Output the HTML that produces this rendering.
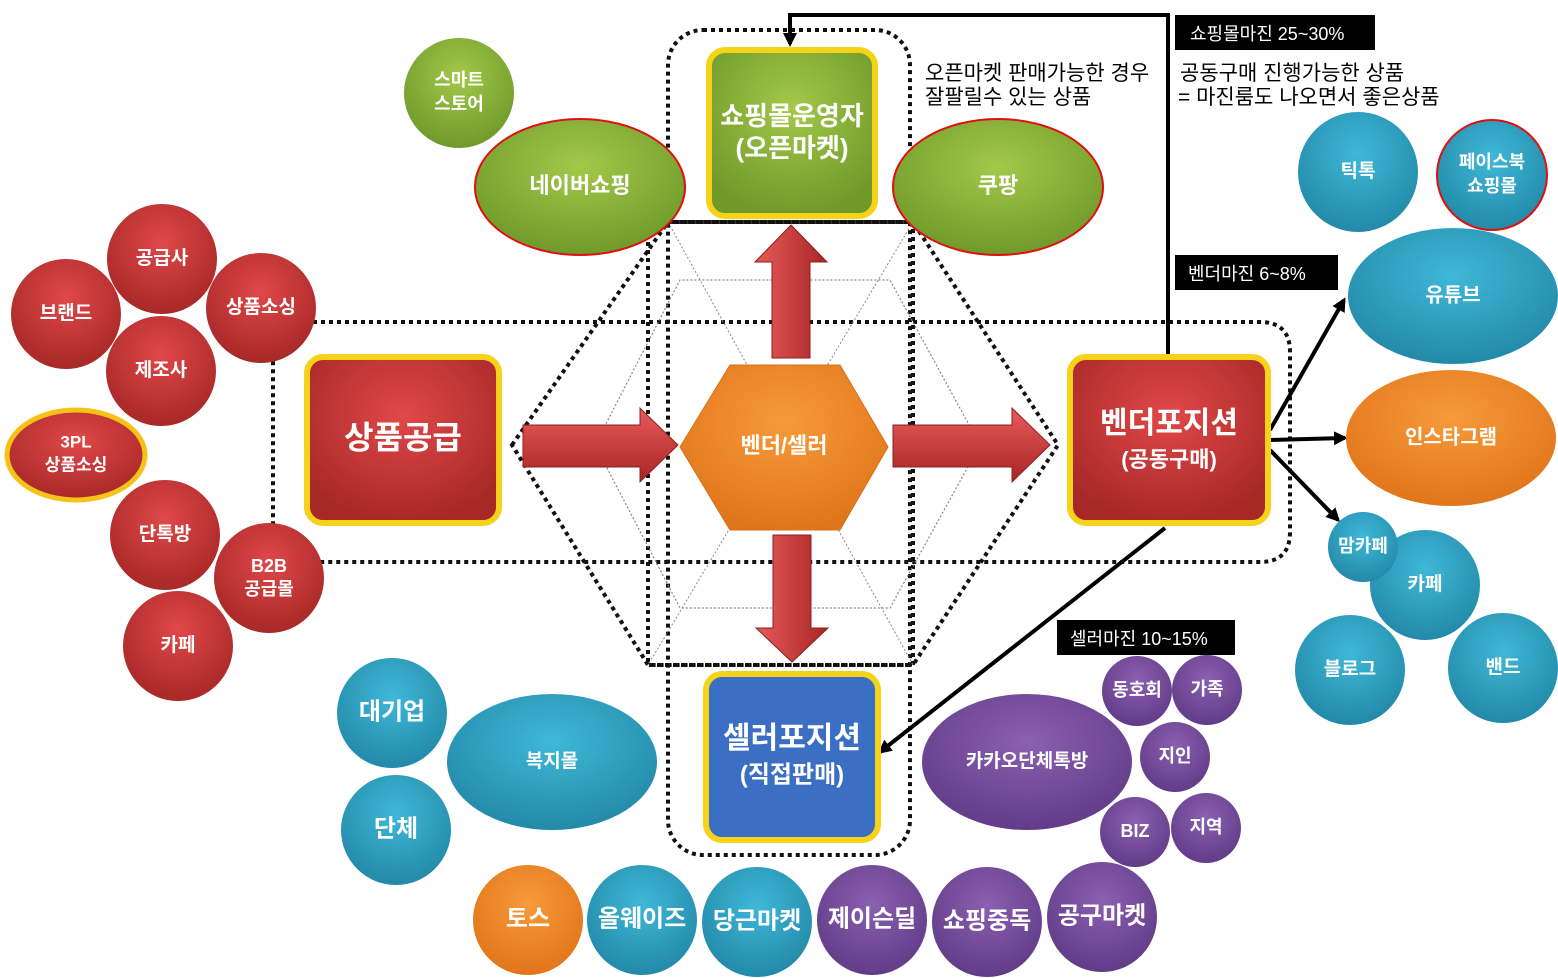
<!DOCTYPE html>
<html><head><meta charset="utf-8"><style>
html,body{margin:0;padding:0;background:#fff;}
svg{display:block;font-family:"Liberation Sans","Noto Sans CJK KR",sans-serif;}
.t{fill:#fff;font-weight:bold;text-anchor:middle;dominant-baseline:middle;}
</style></head><body>
<svg width="1558" height="978" viewBox="0 0 1558 978" xmlns="http://www.w3.org/2000/svg">
<defs>
<radialGradient id="r" cx="50%" cy="35%" r="65%"><stop offset="0" stop-color="#e04848"/><stop offset="1" stop-color="#a82828"/></radialGradient>
<radialGradient id="g" cx="50%" cy="35%" r="65%"><stop offset="0" stop-color="#a3c84a"/><stop offset="1" stop-color="#6f9a2a"/></radialGradient>
<radialGradient id="b" cx="50%" cy="35%" r="65%"><stop offset="0" stop-color="#3fb8d8"/><stop offset="1" stop-color="#2389a8"/></radialGradient>
<radialGradient id="o" cx="50%" cy="35%" r="65%"><stop offset="0" stop-color="#f79a3a"/><stop offset="1" stop-color="#e0761a"/></radialGradient>
<radialGradient id="p" cx="50%" cy="35%" r="65%"><stop offset="0" stop-color="#8a60b0"/><stop offset="1" stop-color="#623c88"/></radialGradient>
<linearGradient id="ar" x1="0" y1="0" x2="0" y2="1"><stop offset="0" stop-color="#e85a5a"/><stop offset="1" stop-color="#a82525"/></linearGradient>
<linearGradient id="arv" x1="0" y1="0" x2="1" y2="0"><stop offset="0" stop-color="#e85a5a"/><stop offset="1" stop-color="#a82525"/></linearGradient>
<marker id="m" markerWidth="14" markerHeight="14" refX="11" refY="7" orient="auto" markerUnits="userSpaceOnUse"><path d="M0,0 L14,7 L0,14 z" fill="#000"/></marker>
</defs>

<g fill="none" stroke="#111" stroke-width="4" stroke-dasharray="4,4">
<path d="M273,322 H1260 Q1290,322 1290,352 V532 Q1290,562 1260,562 H273 Z"/>
<rect x="668" y="30" width="242" height="825" rx="35"/>
<rect x="648" y="222" width="265" height="443"/>
<path d="M512,445 L668,222 H913 L1058,445 L913,665 H648 Z"/>
</g>
<path d="M595,445 L680,280 H890 L980,445 L890,608 H680 Z" fill="none" stroke="#888" stroke-width="1.2" stroke-dasharray="2,2"/>
<line x1="668" y1="222" x2="913" y2="665" stroke="#888" stroke-width="1" stroke-dasharray="2,2"/>
<line x1="913" y1="222" x2="648" y2="665" stroke="#888" stroke-width="1" stroke-dasharray="2,2"/>

<g stroke="#000" stroke-width="4" fill="none">
<path d="M1168,355 V15 H790 V44" marker-end="url(#m)"/>
<line x1="1270" y1="430" x2="1344" y2="300" marker-end="url(#m)"/>
<line x1="1270" y1="440" x2="1345" y2="438" marker-end="url(#m)"/>
<line x1="1270" y1="450" x2="1338" y2="520" marker-end="url(#m)"/>
<line x1="1165" y1="528" x2="880" y2="752" marker-end="url(#m)"/>
</g>

<path d="M523,425 H640 V408 L678,445 L640,482 V467 H523 Z" fill="url(#ar)" stroke="#8a1f1f"/>
<path d="M893,425 H1012 V408 L1050,445 L1012,482 V467 H893 Z" fill="url(#ar)" stroke="#8a1f1f"/>
<path d="M772,358 V262 H755 L791,225 L827,262 H810 V358 Z" fill="url(#arv)" stroke="#8a1f1f"/>
<path d="M773,535 V628 H756 L792,662 L828,628 H811 V535 Z" fill="url(#arv)" stroke="#8a1f1f"/>

<rect x="709" y="50" width="166" height="166" rx="16" fill="url(#g)" stroke="#f6d21a" stroke-width="6"/>
<text class="t" x="792" y="118" font-size="26">쇼핑몰운영자</text>
<text class="t" x="792" y="150" font-size="26">(오픈마켓)</text>
<rect x="307" y="357" width="192" height="166" rx="16" fill="url(#r)" stroke="#f6d21a" stroke-width="6"/>
<text class="t" x="403" y="440" font-size="32">상품공급</text>
<rect x="1070" y="357" width="198" height="166" rx="16" fill="url(#r)" stroke="#f6d21a" stroke-width="6"/>
<text class="t" x="1169" y="425" font-size="30">벤더포지션</text>
<text class="t" x="1169" y="461" font-size="22">(공동구매)</text>
<rect x="706" y="674" width="172" height="166" rx="16" fill="#3b6fc4" stroke="#f6d21a" stroke-width="6"/>
<text class="t" x="792" y="740" font-size="30">셀러포지션</text>
<text class="t" x="792" y="776" font-size="24">(직접판매)</text>
<polygon points="680,447 730,365 840,365 888,447 840,530 730,530" fill="url(#o)" stroke="#d8701a"/>
<text class="t" x="784" y="447" font-size="22">벤더/셀러</text>

<g>
<circle cx="459" cy="93" r="55" fill="url(#g)"/><text class="t" x="459" y="81" font-size="18">스마트</text><text class="t" x="459" y="105" font-size="18">스토어</text>
<ellipse cx="580" cy="187" rx="105" ry="68" fill="url(#g)" stroke="#e01010" stroke-width="2"/><text class="t" x="580" y="187" font-size="22">네이버쇼핑</text>
<ellipse cx="998" cy="187" rx="105" ry="68" fill="url(#g)" stroke="#e01010" stroke-width="2"/><text class="t" x="998" y="187" font-size="22">쿠팡</text>

<circle cx="162" cy="259" r="55" fill="url(#r)"/><text class="t" x="162" y="259" font-size="19">공급사</text>
<circle cx="66" cy="314" r="55" fill="url(#r)"/><text class="t" x="66" y="314" font-size="19">브랜드</text>
<circle cx="161" cy="371" r="55" fill="url(#r)"/><text class="t" x="161" y="371" font-size="19">제조사</text>
<circle cx="261" cy="308" r="55" fill="url(#r)"/><text class="t" x="261" y="308" font-size="19">상품소싱</text>
<ellipse cx="76" cy="455" rx="69" ry="45" fill="url(#r)" stroke="#f6c21a" stroke-width="5"/><text class="t" x="76" y="443" font-size="17">3PL</text><text class="t" x="76" y="466" font-size="17">상품소싱</text>
<circle cx="165" cy="535" r="55" fill="url(#r)"/><text class="t" x="165" y="535" font-size="19">단톡방</text>
<circle cx="269" cy="578" r="55" fill="url(#r)"/><text class="t" x="269" y="567" font-size="18">B2B</text><text class="t" x="269" y="590" font-size="18">공급몰</text>
<circle cx="178" cy="646" r="55" fill="url(#r)"/><text class="t" x="178" y="646" font-size="19">카페</text>

<circle cx="1358" cy="172" r="60" fill="url(#b)"/><text class="t" x="1358" y="172" font-size="19">틱톡</text>
<circle cx="1492" cy="175" r="55" fill="url(#b)" stroke="#e01010" stroke-width="2"/><text class="t" x="1492" y="163" font-size="18">페이스북</text><text class="t" x="1492" y="187" font-size="18">쇼핑몰</text>
<ellipse cx="1453" cy="296" rx="105" ry="68" fill="url(#b)"/><text class="t" x="1453" y="296" font-size="20">유튜브</text>
<ellipse cx="1451" cy="438" rx="105" ry="68" fill="url(#o)"/><text class="t" x="1451" y="438" font-size="20">인스타그램</text>
<circle cx="1425" cy="585" r="55" fill="url(#b)"/><text class="t" x="1425" y="585" font-size="19">카페</text>
<circle cx="1363" cy="547" r="35" fill="url(#b)"/><text class="t" x="1363" y="547" font-size="18">맘카페</text>
<circle cx="1350" cy="670" r="55" fill="url(#b)"/><text class="t" x="1350" y="670" font-size="19">블로그</text>
<circle cx="1503" cy="668" r="55" fill="url(#b)"/><text class="t" x="1503" y="668" font-size="19">밴드</text>

<circle cx="392" cy="713" r="55" fill="url(#b)"/><text class="t" x="392" y="713" font-size="24">대기업</text>
<circle cx="396" cy="830" r="55" fill="url(#b)"/><text class="t" x="396" y="830" font-size="24">단체</text>
<ellipse cx="552" cy="762" rx="105" ry="68" fill="url(#b)"/><text class="t" x="552" y="762" font-size="19">복지몰</text>

<ellipse cx="1027" cy="762" rx="105" ry="68" fill="url(#p)"/><text class="t" x="1027" y="762" font-size="19">카카오단체톡방</text>
<circle cx="1137" cy="691" r="35" fill="url(#p)"/><text class="t" x="1137" y="691" font-size="18">동호회</text>
<circle cx="1207" cy="690" r="35" fill="url(#p)"/><text class="t" x="1207" y="690" font-size="18">가족</text>
<circle cx="1175" cy="757" r="35" fill="url(#p)"/><text class="t" x="1175" y="757" font-size="18">지인</text>
<circle cx="1135" cy="832" r="35" fill="url(#p)"/><text class="t" x="1135" y="832" font-size="18">BIZ</text>
<circle cx="1206" cy="828" r="35" fill="url(#p)"/><text class="t" x="1206" y="828" font-size="18">지역</text>

<circle cx="528" cy="920" r="55" fill="url(#o)"/><text class="t" x="528" y="920" font-size="24">토스</text>
<circle cx="642" cy="920" r="55" fill="url(#b)"/><text class="t" x="642" y="920" font-size="24">올웨이즈</text>
<circle cx="757" cy="922" r="55" fill="url(#b)"/><text class="t" x="757" y="922" font-size="24">당근마켓</text>
<circle cx="872" cy="920" r="55" fill="url(#p)"/><text class="t" x="872" y="920" font-size="24">제이슨딜</text>
<circle cx="987" cy="922" r="55" fill="url(#p)"/><text class="t" x="987" y="922" font-size="24">쇼핑중독</text>
<circle cx="1102" cy="917" r="55" fill="url(#p)"/><text class="t" x="1102" y="917" font-size="24">공구마켓</text>
</g>

<rect x="1175" y="15" width="200" height="35" fill="#000"/><text x="1190" y="40" fill="#fff" font-size="18">쇼핑몰마진 25~30%</text>
<rect x="1175" y="255" width="163" height="35" fill="#000"/><text x="1188" y="280" fill="#fff" font-size="18">벤더마진 6~8%</text>
<rect x="1057" y="620" width="178" height="35" fill="#000"/><text x="1070" y="645" fill="#fff" font-size="18">셀러마진 10~15%</text>
<text x="925" y="80" font-size="21" fill="#000">오픈마켓 판매가능한 경우</text>
<text x="925" y="104" font-size="21" fill="#000">잘팔릴수 있는 상품</text>
<text x="1180" y="80" font-size="21" fill="#000">공동구매 진행가능한 상품</text>
<text x="1178" y="104" font-size="21" fill="#000">= 마진룸도 나오면서 좋은상품</text>
</svg>
</body></html>
